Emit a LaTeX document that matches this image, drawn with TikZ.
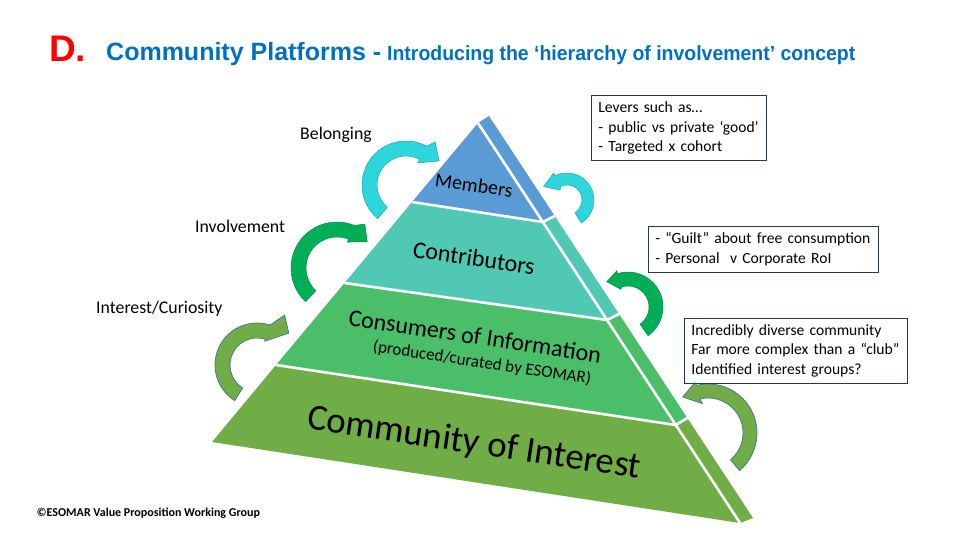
\documentclass[tikz,border=0pt]{standalone}
\usepackage{fontspec}
\usepackage{graphicx}
\setmainfont{Carlito}
\newfontfamily\arialfont{Liberation Sans}
\usetikzlibrary{calc}
\definecolor{memb}{HTML}{5B9BD5}
\definecolor{contr}{HTML}{50C8B4}
\definecolor{cons}{HTML}{4BBE69}
\definecolor{comm}{HTML}{70AD47}
\definecolor{cyanarr}{HTML}{2CD6DB}
\definecolor{cyanedge}{HTML}{1FA5B5}
\definecolor{greenarr}{HTML}{00AE55}
\definecolor{greenedge}{HTML}{008A48}
\definecolor{olivearr}{HTML}{70AD47}
\definecolor{oliveedge}{HTML}{41719C}
\definecolor{boxedge}{HTML}{1F3864}
\definecolor{titleblue}{HTML}{0070C0}
\definecolor{titlered}{HTML}{FF0000}
\newcommand\curvarr[9]{%
  \filldraw[#1] ($(#2)+(#5:#4)$) arc[start angle=#5, end angle=#6, radius=#4]
   -- ($(#2)+(#7)$) -- ($(#2)+(#8)$) -- ($(#2)+(#9)$)
   -- ($(#2)+(#6:#3)$) arc[start angle=#6, end angle=#5, radius=#3] -- cycle;}
\newcommand\boxlines[1]{\noindent\begin{tabular}{@{}l@{}}#1\end{tabular}}
\tikzset{
  sepline/.style={white, line width=2.6pt},
  tiertext/.style={inner sep=0pt, rotate=-8.5, text=black},
  lbl/.style={inner sep=0pt, anchor=base west, font=\fontsize{17.8}{21}\selectfont},
  infobox/.style={draw=boxedge, line width=0.8pt, inner xsep=7pt,
    inner ysep=0pt, anchor=north west, font=\fontsize{15.6}{19.5}\selectfont},
  cyanstyle/.style={fill=cyanarr, draw=cyanedge, line width=0.5pt},
  greenstyle/.style={fill=greenarr, draw=greenedge, line width=0.5pt},
  olivestyle/.style={fill=olivearr, draw=oliveedge, line width=0.7pt}
}
\begin{document}
\begin{tikzpicture}[x=1pt,y=-1pt]
\path[use as bounding box, fill=white] (0,0) rectangle (960,540);

% title
\node[inner sep=0pt, anchor=base west, text=titlered, font=\arialfont\bfseries\fontsize{37}{40}\selectfont] (tD) at (49,62) {D.};
\node[inner sep=0pt, anchor=base west, text=titleblue, font=\arialfont\bfseries\fontsize{25}{28}\selectfont] (tCP) at (106,61) {Community Platforms -};
\node[inner sep=0pt, anchor=base west, text=titleblue] (tSub) at (387,61) {\resizebox{468pt}{\height}{\arialfont\bfseries\fontsize{20.5}{24}\selectfont Introducing the ‘hierarchy of involvement’ concept}};

% pyramid coordinates
\coordinate (A) at (478,123);
\coordinate (S) at (489,116);
\coordinate (BL) at (212,442);
\coordinate (BR) at (740,523);
\coordinate (SR) at (753,518);
\coordinate (L1) at (412,202);
\coordinate (L2) at (344.5,283);
\coordinate (L3) at (276,365);
\coordinate (R1) at (542.8,222);
\coordinate (R2) at (607,320);
\coordinate (R3) at (675.8,425);
\coordinate (Q1) at (554.7,216);
\coordinate (Q2) at (619,314);
\coordinate (Q3) at (687.3,418);

% front faces
\fill[memb] (A) -- (R1) -- (L1) -- cycle;
\fill[contr] (L1) -- (R1) -- (R2) -- (L2) -- cycle;
\fill[cons] (L2) -- (R2) -- (R3) -- (L3) -- cycle;
\fill[comm] (L3) -- (R3) -- (BR) -- (BL) -- cycle;
% side faces
\fill[memb] (A) -- (S) -- (Q1) -- (R1) -- cycle;
\fill[contr] (R1) -- (Q1) -- (Q2) -- (R2) -- cycle;
\fill[cons] (R2) -- (Q2) -- (Q3) -- (R3) -- cycle;
\fill[comm] (R3) -- (Q3) -- (SR) -- (BR) -- cycle;
% white separations
\draw[sepline] (A) -- (BR);
\draw[sepline] (L1) -- (R1) -- (Q1);
\draw[sepline] (L2) -- (R2) -- (Q2);
\draw[sepline] (L3) -- (R3) -- (Q3);

% tier texts
\node[tiertext, font=\fontsize{20}{24}\selectfont] (tm) at (474,185) {Members};
\node[tiertext, font=\fontsize{24}{28}\selectfont] (tc) at (474,258) {Contributors};
\node[tiertext, font=\fontsize{24}{28}\selectfont] (ti) at (475,336) {Consumers of Information};
\node[tiertext, font=\fontsize{17}{20}\selectfont] (tp) at (482,363) {(produced/curated by ESOMAR)};
\node[tiertext, font=\fontsize{36.8}{40}\selectfont] (tci) at (474,444) {Community of Interest};

% curved arrows, left
\curvarr{cyanstyle}{406,185}{29}{44}{130}{298}{304:52}{324:41}{298:25}
\curvarr{greenstyle}{337,268}{31}{46}{133}{292}{302.5:52}{319:40}{292:28}
\curvarr{olivestyle}{257,365}{27}{42}{122}{288}{299:57}{315:45}{288:25}
% curved arrows, right
\curvarr{cyanstyle}{567,200}{15}{27}{58}{-115}{-117:30}{-150:27}{-125:12}
\curvarr{greenstyle}{628,307}{21}{35}{55}{-108}{-107:38}{-130:33}{-112:19}
\curvarr{olivestyle}{708,433}{35}{49}{50}{-103}{-105:52}{-125:44}{-101:30}

% labels
\node[lbl] (lb) at (300,140) {Belonging};
\node[lbl] (li) at (195,232) {Involvement};
\node[lbl] (lc) at (96,313) {Interest/Curiosity};

% info boxes
\node[infobox, text width=161pt, minimum height=64.5pt] (b1) at (591,95.5)
  {\boxlines{Levers such as…\\- public vs private ‘good’\\- Targeted x cohort}};
\node[infobox, text width=216pt, minimum height=46pt] (b2) at (648,226)
  {\boxlines{- “Guilt” about free consumption\\- Personal~~v Corporate RoI}};
\node[infobox, text width=208.7pt, minimum height=64.5pt] (b3) at (684,318)
  {\boxlines{Incredibly diverse community\\Far more complex than a “club”\\Identified interest groups?}};

% footer
\node[inner sep=0pt, anchor=base west, font=\bfseries\fontsize{12}{14}\selectfont] (foot) at (36.5,516) {©ESOMAR Value Proposition Working Group};
\end{tikzpicture}
\end{document}
